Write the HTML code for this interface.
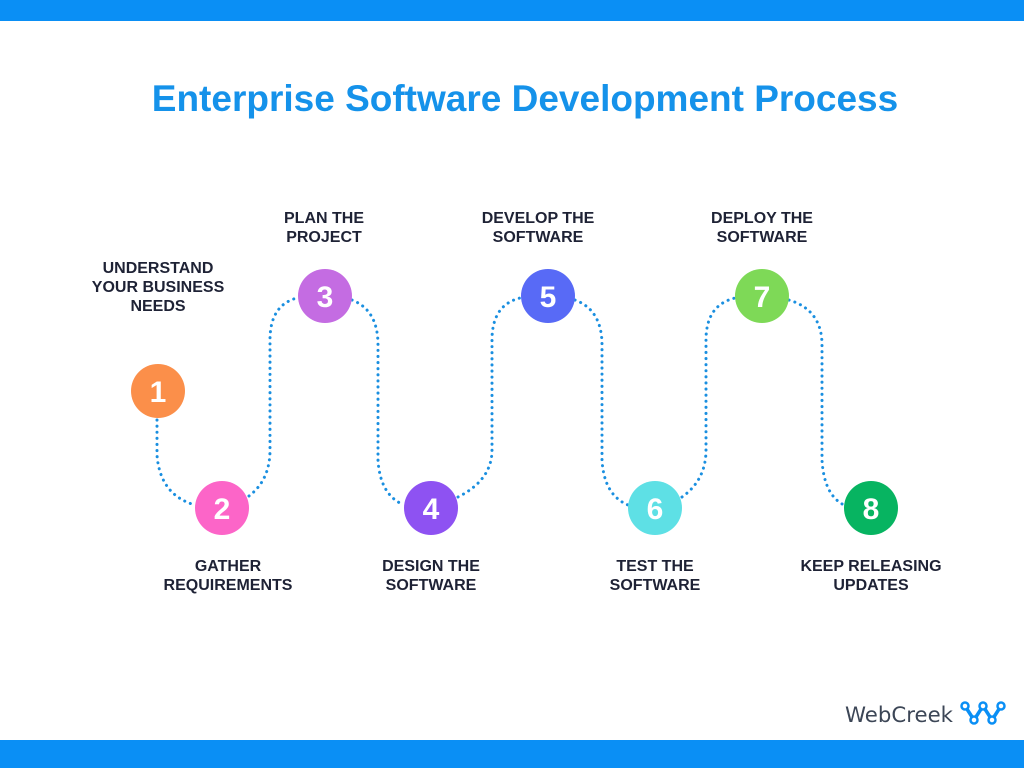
<!DOCTYPE html>
<html><head><meta charset="utf-8"><style>
body{margin:0;width:1024px;height:768px;background:#fff;position:relative;overflow:hidden;font-family:"Liberation Sans",sans-serif}
.bar{position:absolute;left:0;width:1024px;background:#0a8ff5}
.t{position:absolute;color:#1e2235;font-weight:bold;font-size:16px;line-height:19px;text-align:center;width:200px}
h1{position:absolute;top:78px;left:0;width:1050px;text-align:center;margin:0;font-size:37px;color:#1592ea;font-weight:bold}
</style></head><body>
<div class="bar" style="top:0;height:21px"></div>
<div class="bar" style="top:740px;height:28px"></div>
<h1>Enterprise Software Development Process</h1>
<svg width="1024" height="768" style="position:absolute;left:0;top:0">
<g fill="none" stroke="#1a8fe0" stroke-width="3" stroke-dasharray="0.1 6" stroke-linecap="round">
<path d="M157 420 V455 Q160 495 195 505"/>
<path d="M249 496 Q270 480 270 450 V340 Q270 305 297 298"/>
<path d="M352 300 Q378 310 378 345 V460 Q380 495 404 505"/>
<path d="M458 497 Q492 480 492 450 V340 Q492 305 520 298"/>
<path d="M575 300 Q602 310 602 345 V460 Q604 495 628 505"/>
<path d="M682 497 Q706 480 706 450 V340 Q706 305 735 298"/>
<path d="M789 300 Q822 310 822 345 V460 Q824 495 844 505"/>
</g>
<g font-family="Liberation Sans" font-weight="bold" font-size="30" fill="#fff" text-anchor="middle">
<circle cx="158" cy="391" r="27" fill="#fb8f4a"/><text x="158" y="402">1</text>
<circle cx="222" cy="508" r="27" fill="#fc65c8"/><text x="222" y="519">2</text>
<circle cx="325" cy="296" r="27" fill="#c46ce2"/><text x="325" y="307">3</text>
<circle cx="431" cy="508" r="27" fill="#8e52f2"/><text x="431" y="519">4</text>
<circle cx="548" cy="296" r="27" fill="#586af6"/><text x="548" y="307">5</text>
<circle cx="655" cy="508" r="27" fill="#5ee0e5"/><text x="655" y="519">6</text>
<circle cx="762" cy="296" r="27" fill="#7ed957"/><text x="762" y="307">7</text>
<circle cx="871" cy="508" r="27" fill="#07b461"/><text x="871" y="519">8</text>
</g>
<g fill="none" stroke="#0a8ff5" stroke-width="3.5">
<path d="M965 706 L974 720 L983 706 L992 720 L1001 706"/>
</g>
<g fill="#fff" stroke="#0a8ff5" stroke-width="2.5">
<circle cx="965" cy="706" r="3.5"/><circle cx="983" cy="706" r="3.5"/><circle cx="1001" cy="706" r="3.5"/>
<circle cx="974" cy="720" r="3.5"/><circle cx="992" cy="720" r="3.5"/>
</g>
<text x="845" y="722" font-family="DejaVu Sans" font-size="21" fill="#3c4656" textLength="108" lengthAdjust="spacingAndGlyphs">WebCreek</text>
</svg>
<div class="t" style="left:58px;top:259px">UNDERSTAND<br>YOUR BUSINESS<br>NEEDS</div>
<div class="t" style="left:224px;top:209px">PLAN THE<br>PROJECT</div>
<div class="t" style="left:438px;top:209px">DEVELOP THE<br>SOFTWARE</div>
<div class="t" style="left:662px;top:209px">DEPLOY THE<br>SOFTWARE</div>
<div class="t" style="left:128px;top:557px">GATHER<br>REQUIREMENTS</div>
<div class="t" style="left:331px;top:557px">DESIGN THE<br>SOFTWARE</div>
<div class="t" style="left:555px;top:557px">TEST THE<br>SOFTWARE</div>
<div class="t" style="left:771px;top:557px">KEEP RELEASING<br>UPDATES</div>
</body></html>
